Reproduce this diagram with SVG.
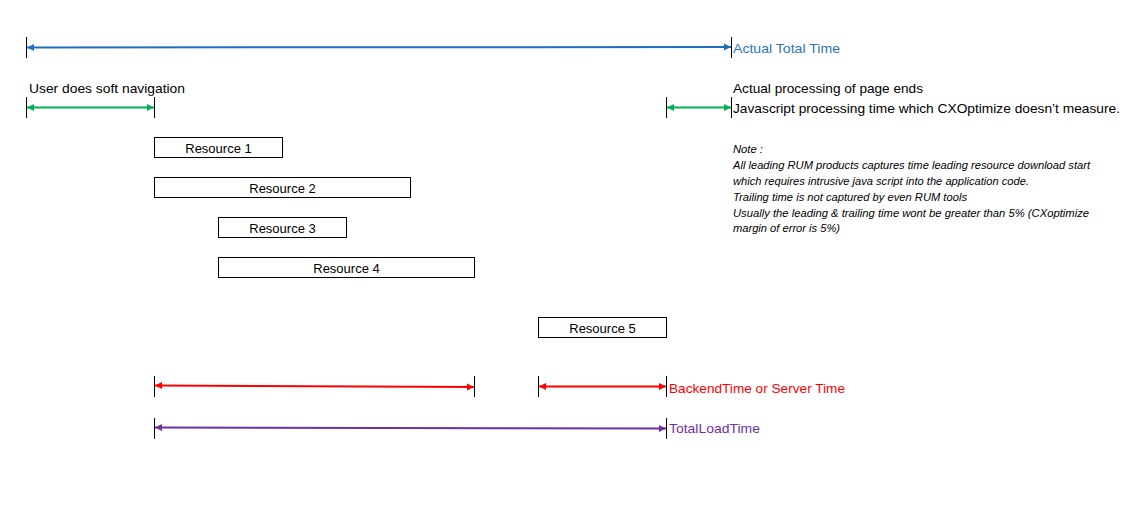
<svg xmlns="http://www.w3.org/2000/svg" width="1142" height="508" viewBox="0 0 1142 508">
<style>
text{font-family:"Liberation Sans",Arial,sans-serif;font-size:13px;fill:#000}
.box{fill:#fff;stroke:#000;stroke-width:1}
.tick{stroke:#000;stroke-width:1}
.note{font-size:10.5px;font-style:italic}
.arr{stroke-width:2;fill:none}
</style>
<defs>
<marker id="mb" markerUnits="userSpaceOnUse" markerWidth="8" markerHeight="8" refX="7" refY="4" orient="auto-start-reverse"><path d="M0,0.5 L7,4 L0,7.5z" fill="#1F6FBF"/></marker>
<marker id="mg" markerUnits="userSpaceOnUse" markerWidth="8" markerHeight="8" refX="7" refY="4" orient="auto-start-reverse"><path d="M0,0.5 L7,4 L0,7.5z" fill="#00B050"/></marker>
<marker id="mr" markerUnits="userSpaceOnUse" markerWidth="8" markerHeight="8" refX="7" refY="4" orient="auto-start-reverse"><path d="M0,0.5 L7,4 L0,7.5z" fill="#FF0000"/></marker>
<marker id="mp" markerUnits="userSpaceOnUse" markerWidth="8" markerHeight="8" refX="7" refY="4" orient="auto-start-reverse"><path d="M0,0.5 L7,4 L0,7.5z" fill="#7030A0"/></marker>
</defs>
<rect width="1142" height="508" fill="#fff"/>
<g id="connectors">
<g id="ticks">
<line class="tick" x1="26.5" y1="37" x2="26.5" y2="58"/>
<line class="tick" x1="731.5" y1="37" x2="731.5" y2="58"/>
<line class="tick" x1="26.5" y1="97" x2="26.5" y2="118"/>
<line class="tick" x1="154.5" y1="97" x2="154.5" y2="118"/>
<line class="tick" x1="666.5" y1="97" x2="666.5" y2="118"/>
<line class="tick" x1="731.5" y1="97" x2="731.5" y2="118"/>
<line class="tick" x1="154.5" y1="376" x2="154.5" y2="397"/>
<line class="tick" x1="474.5" y1="376" x2="474.5" y2="397"/>
<line class="tick" x1="538.5" y1="376" x2="538.5" y2="397"/>
<line class="tick" x1="666.5" y1="376" x2="666.5" y2="397"/>
<line class="tick" x1="154.5" y1="418" x2="154.5" y2="439"/>
<line class="tick" x1="666.5" y1="418" x2="666.5" y2="439"/>
</g>
<line class="arr" x1="27" y1="47.5" x2="731" y2="47" stroke="#1F6FBF" marker-start="url(#mb)" marker-end="url(#mb)"/>
<line class="arr" x1="27" y1="107.5" x2="154" y2="107.5" stroke="#00B050" marker-start="url(#mg)" marker-end="url(#mg)"/>
<line class="arr" x1="667" y1="107.5" x2="731" y2="107.5" stroke="#00B050" marker-start="url(#mg)" marker-end="url(#mg)"/>
<line class="arr" x1="155" y1="385.5" x2="474" y2="387" stroke="#FF0000" marker-start="url(#mr)" marker-end="url(#mr)"/>
<line class="arr" x1="539" y1="386.5" x2="666" y2="386.5" stroke="#FF0000" marker-start="url(#mr)" marker-end="url(#mr)"/>
<line class="arr" x1="155" y1="427.5" x2="666" y2="428.5" stroke="#7030A0" marker-start="url(#mp)" marker-end="url(#mp)"/>
</g>
<g id="resource1"><rect class="box" x="154.5" y="137.5" width="128" height="20"/><text x="218.5" y="153" text-anchor="middle">Resource 1</text></g>
<g id="resource2"><rect class="box" x="154.5" y="177.5" width="256" height="20"/><text x="282.5" y="193" text-anchor="middle">Resource 2</text></g>
<g id="resource3"><rect class="box" x="218.5" y="217.5" width="128" height="20"/><text x="282.5" y="233" text-anchor="middle">Resource 3</text></g>
<g id="resource4"><rect class="box" x="218.5" y="257.5" width="256" height="20"/><text x="346.5" y="273" text-anchor="middle">Resource 4</text></g>
<g id="resource5"><rect class="box" x="538.5" y="317.5" width="128" height="20"/><text x="602.5" y="333" text-anchor="middle">Resource 5</text></g>
<g id="label-actual-total"><text x="733" y="53" style="fill:#2E75B6" textLength="107" lengthAdjust="spacingAndGlyphs">Actual Total Time</text></g>
<g id="label-soft-nav"><text x="29" y="93" textLength="156" lengthAdjust="spacingAndGlyphs">User does soft navigation</text></g>
<g id="label-processing"><text x="733" y="93" textLength="190" lengthAdjust="spacingAndGlyphs">Actual processing of page ends</text><text x="733" y="113" textLength="387" lengthAdjust="spacingAndGlyphs">Javascript processing time which CXOptimize doesn’t measure.</text></g>
<g id="label-backend"><text x="669" y="393" style="fill:#FF0000" textLength="176" lengthAdjust="spacingAndGlyphs">BackendTime or Server Time</text></g>
<g id="label-totalload"><text x="669" y="433" style="fill:#7030A0" textLength="91" lengthAdjust="spacingAndGlyphs">TotalLoadTime</text></g>
<g id="note">
<text class="note" x="733" y="153" textLength="30" lengthAdjust="spacingAndGlyphs">Note :</text>
<text class="note" x="733" y="169" textLength="357" lengthAdjust="spacingAndGlyphs">All leading RUM products captures time leading resource download start</text>
<text class="note" x="733" y="185" textLength="296" lengthAdjust="spacingAndGlyphs">which requires intrusive java script into the application code.</text>
<text class="note" x="733" y="201" textLength="234" lengthAdjust="spacingAndGlyphs">Trailing time is not captured by even RUM tools</text>
<text class="note" x="733" y="217" textLength="356" lengthAdjust="spacingAndGlyphs">Usually the leading &amp; trailing time wont be greater than 5% (CXoptimize</text>
<text class="note" x="733" y="232" textLength="107" lengthAdjust="spacingAndGlyphs">margin of error is 5%)</text>
</g>
</svg>
